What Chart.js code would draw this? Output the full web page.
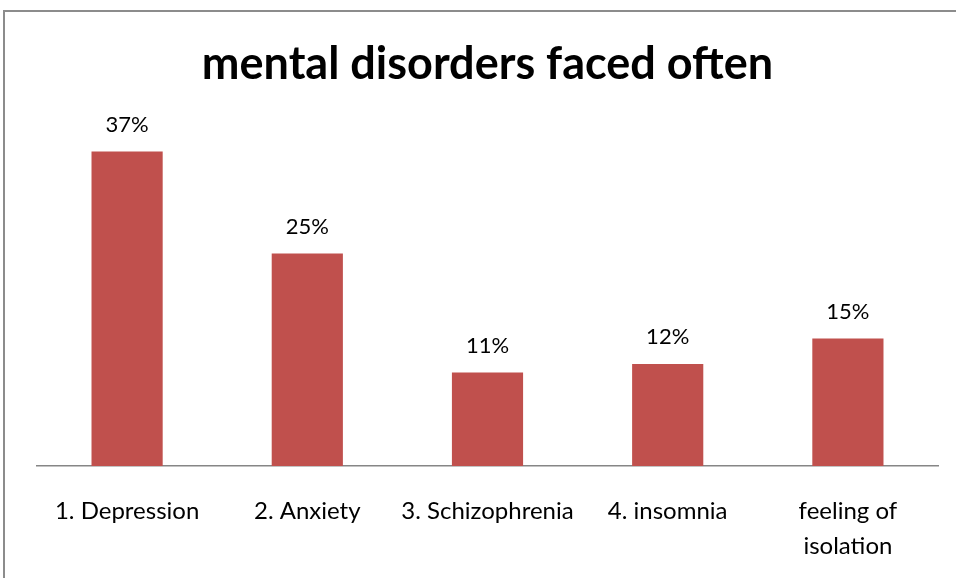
<!DOCTYPE html>
<html>
<head>
<meta charset="utf-8">
<script src="https://cdn.jsdelivr.net/npm/chart.js@4/dist/chart.umd.min.js"></script>
<style>
  html, body { margin: 0; padding: 0; background: #fff; overflow: hidden; }
  #wrap { position: relative; width: 956px; height: 578px; }
  #frame { position: absolute; left: 3px; top: 10px; width: 1000px; height: 1000px; border: 2px solid #8c8c8c; box-sizing: border-box; }
  canvas { position: absolute; left: 0; top: 0; }
</style>
</head>
<body>
<div id="wrap">
  <div id="frame"></div>
  <canvas id="chart" width="956" height="578"></canvas>
</div>
<script>
// Chart data
const categories = ['1. Depression', '2. Anxiety', '3. Schizophrenia', '4. insomnia', ['feeling of', 'isolation']];
const percentages = [37, 25, 11, 12, 15];
const chartTitle = 'mental disorders faced often';

const fontFamily = 'Lato, "Open Sans", sans-serif';

// Draw the value labels above each bar
const valueLabels = {
  id: 'valueLabels',
  afterDatasetsDraw(chart) {
    const ctx = chart.ctx;
    const meta = chart.getDatasetMeta(0);
    ctx.save();
    ctx.font = '22px ' + fontFamily;
    ctx.fillStyle = '#000';
    ctx.textAlign = 'center';
    ctx.textBaseline = 'middle';
    meta.data.forEach((bar, i) => {
      ctx.fillText(percentages[i] + '%', bar.x, bar.y - 27);
    });
    ctx.restore();
  }
};

new Chart(document.getElementById('chart').getContext('2d'), {
  type: 'bar',
  data: {
    labels: categories,
    datasets: [{
      data: percentages,
      backgroundColor: '#C0504D',
      barPercentage: 0.395,
      categoryPercentage: 1
    }]
  },
  options: {
    responsive: false,
    animation: false,
    layout: { padding: { left: 37, right: 18, top: 0, bottom: 0 } },
    plugins: {
      legend: { display: false },
      tooltip: { enabled: false },
      title: {
        display: true,
        text: chartTitle,
        color: '#000',
        font: { family: fontFamily, size: 45, weight: 'bold', lineHeight: 1.1 },
        padding: { top: 40, bottom: 36.5 }
      }
    },
    scales: {
      x: {
        grid: { display: false },
        border: { color: '#868686', width: 1.5 },
        ticks: {
          color: '#000',
          font: { family: fontFamily, size: 24, lineHeight: 1.45 },
          padding: 20,
          maxRotation: 0,
          autoSkip: false
        },
        afterFit(scale) { scale.height = 112; }
      },
      y: {
        display: false,
        min: 0,
        max: 40
      }
    }
  },
  plugins: [valueLabels]
});
</script>
</body>
</html>
